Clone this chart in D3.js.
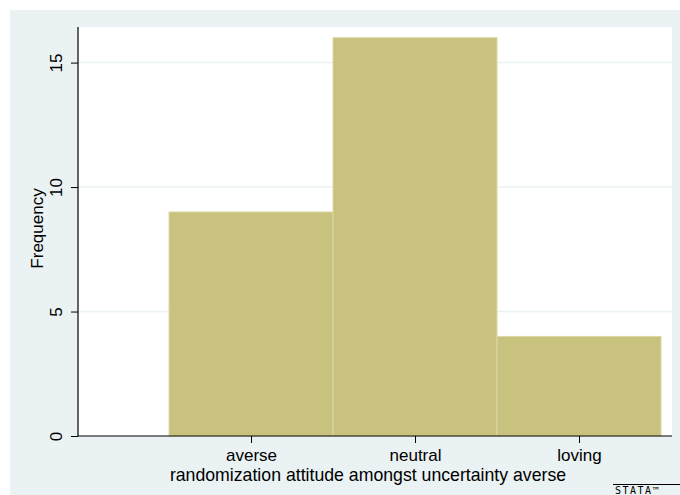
<!DOCTYPE html>
<html>
<head>
<meta charset="utf-8">
<script src="https://cdn.jsdelivr.net/npm/d3@7"></script>
<style>
  body { margin: 0; background: #fff; }
  text { font-family: "Liberation Sans", Arial, sans-serif; }
</style>
</head>
<body>
<div id="chart"></div>
<script>
// histogram data
const categories = ["averse", "neutral", "loving"];
const categoryPos = [1, 2, 3];
const frequencies = [9, 16, 4];
const yTicks = [0, 5, 10, 15];

const W = 680, H = 495;
let margin = { top: 27, right: 8, bottom: 59, left: 78 },
    width = W - margin.left - margin.right,
    height = H - margin.top - margin.bottom;

let svg = d3.select("#chart")
    .append("svg")
    .attr("width", W)
    .attr("height", H);

// outer graph region
svg.append("rect")
    .attr("x", 10).attr("y", 10)
    .attr("width", W - 10).attr("height", H - 10)
    .attr("fill", "#eaf2f3");

let g = svg.append("g")
    .attr("transform", "translate(" + margin.left + "," + margin.top + ")");

g.append("rect")
    .attr("width", width).attr("height", height)
    .attr("fill", "#fff");

let x = d3.scaleLinear()
    .domain([-0.055, 3.567])
    .range([0, width]);

let y = d3.scaleLinear()
    .domain([0, 16.43])
    .range([height, 0]);

// gridlines
g.selectAll(".grid")
    .data(yTicks.filter(d => d > 0))
    .enter()
    .append("line")
    .attr("x1", 0).attr("x2", width)
    .attr("y1", d => y(d)).attr("y2", d => y(d))
    .attr("stroke", "#eaf2f3")
    .attr("stroke-width", 1.5);

// bars
g.selectAll("rect.bar")
    .data(frequencies)
    .enter()
    .append("rect")
    .attr("class", "bar")
    .attr("x", (d, i) => x(categoryPos[i] - 0.5))
    .attr("y", d => y(d))
    .attr("width", (d, i) => x(categoryPos[i] + 0.5) - x(categoryPos[i] - 0.5))
    .attr("height", d => height - y(d))
    .attr("fill", "#c9c27e")
    .attr("stroke", "#dcd8a6")
    .attr("stroke-width", 1);

// y axis
let yAxis = g.append("g")
    .call(d3.axisLeft(y).tickValues(yTicks).tickSize(7).tickPadding(6));
yAxis.select(".domain").attr("d", "M0," + height + "V0").attr("stroke", "#000").attr("stroke-width", 1.2);
yAxis.selectAll(".tick line").attr("stroke", "#000");
yAxis.selectAll("text")
    .attr("font-size", 17)
    .attr("fill", "#000")
    .attr("transform", "rotate(-90)")
    .attr("x", 0)
    .attr("y", -16)
    .attr("dy", "0")
    .style("text-anchor", "middle");

// x axis
let xAxis = g.append("g")
    .attr("transform", "translate(0," + height + ")")
    .call(d3.axisBottom(x).tickValues(categoryPos)
        .tickFormat((d, i) => categories[i]).tickSize(7).tickPadding(6));
xAxis.select(".domain").attr("d", "M0,0H" + width).attr("stroke", "#000").attr("stroke-width", 1.2);
xAxis.selectAll(".tick line").attr("stroke", "#000");
xAxis.selectAll("text").attr("font-size", 17).attr("fill", "#000");

// axis titles
g.append("text")
    .attr("x", width / 2 - 7)
    .attr("y", height + 45)
    .attr("text-anchor", "middle")
    .attr("font-size", 17.7)
    .text("randomization attitude amongst uncertainty averse");

g.append("text")
    .attr("transform", "translate(" + (-35) + "," + (height / 2 - 3) + ")rotate(-90)")
    .attr("text-anchor", "middle")
    .attr("font-size", 17)
    .text("Frequency");

// stata logo
svg.append("line")
    .attr("x1", 613).attr("x2", 680)
    .attr("y1", 484.5).attr("y2", 484.5)
    .attr("stroke", "#000").attr("stroke-width", 1);
svg.append("text")
    .attr("x", 615).attr("y", 494)
    .attr("font-size", 10)
    .attr("letter-spacing", 1.5)
    .style("font-family", "'DejaVu Sans Mono', monospace")
    .text("STATA™");
</script>
</body>
</html>
